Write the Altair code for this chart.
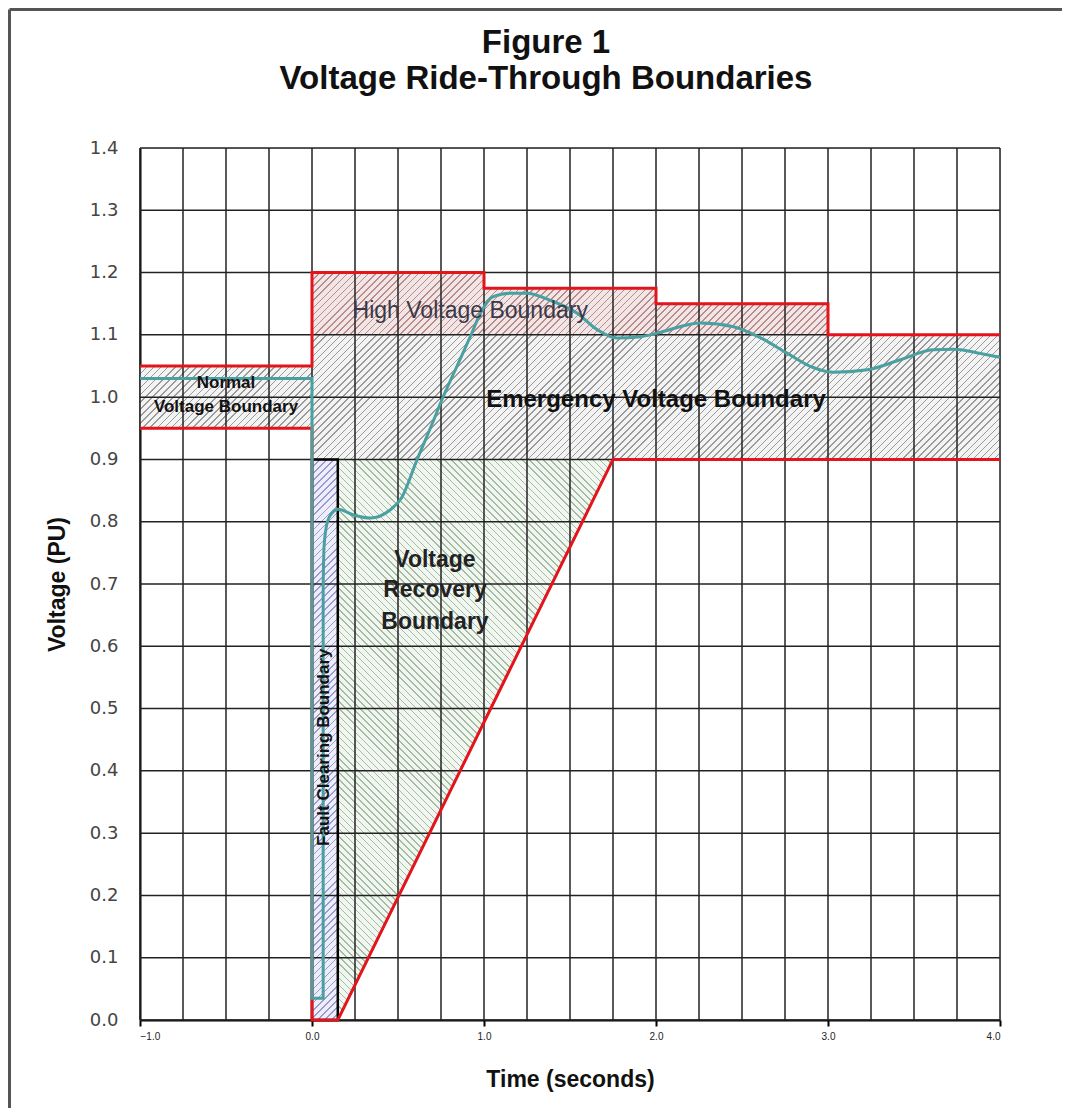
import math
import altair as alt
import pandas as pd

# ---------------- data ----------------
x_ticks = [-1.0, 0.0, 1.0, 2.0, 3.0, 4.0]
x_grid = [-1.0, -0.75, -0.5, -0.25, 0.0, 0.25, 0.5, 0.75, 1.0, 1.25, 1.5, 1.75,
          2.0, 2.25, 2.5, 2.75, 3.0, 3.25, 3.5, 3.75, 4.0]
y_grid = [0.0, 0.1, 0.2, 0.3, 0.4, 0.5, 0.6, 0.7, 0.8, 0.9, 1.0, 1.1, 1.2, 1.3, 1.4]

# shaded boundary regions (rectangles)
reg_name = ["Normal", "Emergency", "High1", "High2", "High3", "Fault"]
reg_x0 = [-1.0, 0.0, 0.0, 1.0, 2.0, 0.0]
reg_x1 = [0.0, 4.0, 1.0, 2.0, 3.0, 0.15]
reg_y0 = [0.95, 0.9, 1.1, 1.1, 1.1, 0.0]
reg_y1 = [1.05, 1.1, 1.2, 1.175, 1.15, 0.9]

# voltage recovery region (between diagonal and 0.9)
rec_t = [0.15, 1.75]
rec_lo = [0.0, 0.9]
rec_hi = [0.9, 0.9]

# red boundary lines
upper_t = [-1.0, 0.0, 0.0, 1.0, 1.0, 2.0, 2.0, 3.0, 3.0, 4.0]
upper_v = [1.05, 1.05, 1.2, 1.2, 1.175, 1.175, 1.15, 1.15, 1.1, 1.1]
lower_t = [-1.0, 0.0, 0.0, 0.15, 1.75, 4.0]
lower_v = [0.95, 0.95, 0.0, 0.0, 0.9, 0.9]

# voltage response curve: fault step part, then smooth recovery part
step_t = [-1.0, 0.0, 0.0, 0.065, 0.065]
step_v = [1.03, 1.03, 0.035, 0.035, 0.70]
resp_t = [0.065, 0.07, 0.09, 0.12, 0.15, 0.25, 0.34, 0.45,
          0.52, 0.61, 0.70, 0.76, 0.84, 0.92, 0.98, 1.05, 1.15, 1.25, 1.38, 1.54,
          1.66, 1.77, 1.91, 2.01, 2.26, 2.45, 2.61, 2.76, 2.91, 3.03, 3.23, 3.42,
          3.61, 3.73, 3.87, 4.0]
resp_v = [0.70, 0.76, 0.80, 0.815, 0.82, 0.81, 0.806, 0.818,
          0.838, 0.899, 0.958, 0.999, 1.048, 1.097, 1.135, 1.161, 1.167, 1.167, 1.156, 1.135,
          1.108, 1.095, 1.097, 1.103, 1.119, 1.113, 1.095, 1.071, 1.048, 1.040, 1.044, 1.060,
          1.076, 1.077, 1.071, 1.064]

# ---------------- layout / style ----------------
W, H = 860, 872
PX_X = W / 5.0     # pixels per second
PX_Y = H / 1.4     # pixels per PU
FONT = "Liberation Sans"

xs = alt.Scale(domain=[-1.0, 4.0], nice=False, zero=False)
ys = alt.Scale(domain=[0.0, 1.4], nice=False, zero=False)

xaxis = alt.Axis(values=x_ticks, format=".1f", grid=False, tickSize=6, tickColor="black",
                 tickWidth=2, domainColor="black", domainWidth=2,
                 labelFont=FONT, labelFontSize=10, labelColor="#222", labelPadding=5,
                 titleFont=FONT, titleFontSize=23, titleFontWeight="bold", titleColor="#111",
                 titlePadding=27)
yaxis = alt.Axis(values=y_grid, format=".1f", grid=False, ticks=False, tickSize=0,
                 domainColor="black", domainWidth=2,
                 labelFont="DejaVu Sans", labelFontSize=18, labelColor="#444", labelPadding=22,
                 titleFont=FONT, titleFontSize=23, titleFontWeight="bold", titleColor="#111",
                 titlePadding=20)


def X(f):
    return alt.X(f, type="quantitative", scale=xs, axis=xaxis, title="Time (seconds)")


def Y(f):
    return alt.Y(f, type="quantitative", scale=ys, axis=yaxis, title="Voltage (PU)")


def hatch(w, h, line, bg, direction="/", spacing=5.0, lw=1.1):
    """Diagonal hatch pattern built as a striped linear gradient over a w x h pixel box."""
    c = (1.0 / h + 1.0 / w) / (1.0 / h ** 2 + 1.0 / w ** 2)
    if direction == "/":
        x1, y1, x2, y2 = 0.0, 0.0, c / h, c / w
    else:
        x1, y1, x2, y2 = 0.0, 1.0, c / h, 1.0 - c / w
    span = (w + h) / math.sqrt(2.0)
    n = max(1, int(round(span / spacing)))
    frac = lw / spacing
    stops = []
    for i in range(n):
        a = i / n
        b = (i + frac) / n
        e = (i + 1) / n
        stops += [alt.GradientStop(offset=a, color=line), alt.GradientStop(offset=b, color=line),
                  alt.GradientStop(offset=b, color=bg), alt.GradientStop(offset=e, color=bg)]
    return alt.LinearGradient(gradient="linear", stops=stops, x1=x1, y1=y1, x2=x2, y2=y2)


regions = pd.DataFrame({"name": reg_name, "x0": reg_x0, "x1": reg_x1, "y0": reg_y0, "y1": reg_y1})

styles = {
    "Normal": ("#9a9a9a", "#f3f3f3", "/"),
    "Emergency": ("#9a9a9a", "#f3f3f3", "/"),
    "High1": ("#b88a8a", "#f1e5e5", "/"),
    "High2": ("#b88a8a", "#f1e5e5", "/"),
    "High3": ("#b88a8a", "#f1e5e5", "/"),
    "Fault": ("#9a9ad0", "#eeeefa", "/"),
}

fill_layers = []
for k, row in regions.iterrows():
    w = (row.x1 - row.x0) * PX_X
    h = (row.y1 - row.y0) * PX_Y
    line, bg, d = styles[row["name"]]
    fill_layers.append(
        alt.Chart(regions.iloc[[k]]).mark_rect(color=hatch(w, h, line, bg, d), strokeWidth=0)
        .encode(x=X("x0"), x2="x1", y=Y("y0"), y2="y1")
    )

recovery = pd.DataFrame({"t": rec_t, "lo": rec_lo, "hi": rec_hi})
rw = (max(rec_t) - min(rec_t)) * PX_X
rh = (max(rec_hi) - min(rec_lo)) * PX_Y
rec_fill = alt.Chart(recovery).mark_area(
    color=hatch(rw, rh, "#a3bba0", "#f2f6f1", "\\"), opacity=1).encode(
    x=X("t"), y=Y("lo"), y2="hi")

vgrid = pd.DataFrame({"t": x_grid})
hgrid = pd.DataFrame({"v": y_grid})
vlines = alt.Chart(vgrid).mark_rule(color="#222", strokeWidth=1.5).encode(x=X("t"))
hlines = alt.Chart(hgrid).mark_rule(color="#222", strokeWidth=1.5).encode(y=Y("v"))

box = alt.Chart(regions[regions.name == "Fault"]).mark_rect(
    fill=None, stroke="black", strokeWidth=2.5).encode(x=X("x0"), x2="x1", y=Y("y0"), y2="y1")

red = pd.DataFrame({
    "t": upper_t + lower_t,
    "v": upper_v + lower_v,
    "seg": ["upper"] * len(upper_t) + ["lower"] * len(lower_t),
    "i": list(range(len(upper_t))) + list(range(len(lower_t))),
})
red_lines = alt.Chart(red).mark_line(color="#e3141b", strokeWidth=3).encode(
    x=X("t"), y=Y("v"), detail="seg:N", order="i:Q")

step = pd.DataFrame({"t": step_t, "v": step_v, "i": list(range(len(step_t)))})
resp = pd.DataFrame({"t": resp_t, "v": resp_v})
step_line = alt.Chart(step).mark_line(color="#4a9fa0", strokeWidth=3).encode(
    x=X("t"), y=Y("v"), order="i:Q")
resp_line = alt.Chart(resp).mark_line(color="#4a9fa0", strokeWidth=3, interpolate="monotone").encode(
    x=X("t"), y=Y("v"))

lab_high = pd.DataFrame({"t": [0.92], "v": [1.138], "txt": ["High Voltage Boundary"]})
lab_emer = pd.DataFrame({"t": [2.0], "v": [0.995], "txt": ["Emergency Voltage Boundary"]})
lab_norm = pd.DataFrame({"t": [-0.5, -0.5], "v": [1.023, 0.984], "txt": ["Normal", "Voltage Boundary"]})
lab_rec = pd.DataFrame({"t": [0.715, 0.715, 0.715], "v": [0.739, 0.690, 0.639],
                        "txt": ["Voltage", "Recovery", "Boundary"]})
lab_fault = pd.DataFrame({"t": [0.068], "v": [0.438], "txt": ["Fault Clearing Boundary"]})


def text_layer(df, size, weight, color, angle=0):
    return alt.Chart(df).mark_text(font=FONT, fontSize=size, fontWeight=weight, color=color,
                                   align="center", baseline="middle", angle=angle).encode(
        x=X("t"), y=Y("v"), text="txt:N")


texts = (text_layer(lab_high, 23, "normal", "#3b3848")
         + text_layer(lab_emer, 24, "bold", "#111")
         + text_layer(lab_norm, 17, "bold", "#111")
         + text_layer(lab_rec, 23, "bold", "#222")
         + text_layer(lab_fault, 17, "bold", "#111", angle=270))

# outer figure border (top and left edges)
one = pd.DataFrame({"a": [0]})
frame_top = alt.Chart(one).mark_rule(color="#555", strokeWidth=3).encode(
    x=alt.value(-130.5), x2=alt.value(W + 80), y=alt.value(-138.5))
frame_left = alt.Chart(one).mark_rule(color="#555", strokeWidth=3).encode(
    x=alt.value(-130.5), y=alt.value(-138.5), y2=alt.value(H + 90))

chart = alt.layer(
    *fill_layers, rec_fill, vlines, hlines, box, red_lines, step_line, resp_line, texts,
    frame_top, frame_left
).properties(
    width=W, height=H,
    autosize=alt.AutoSizeParams(type="none"),
    padding={"left": 132, "top": 140, "right": 62, "bottom": 88},
    title=alt.Title(["Figure 1", "Voltage Ride-Through Boundaries"], font=FONT, fontSize=33,
                    fontWeight="bold", color="#111", anchor="middle", dx=-24, offset=0, dy=88,
                    lineHeight=36),
).configure_view(stroke=None).configure(background="white")

chart.save("out.html", embed_options={"renderer": "svg", "actions": False})
